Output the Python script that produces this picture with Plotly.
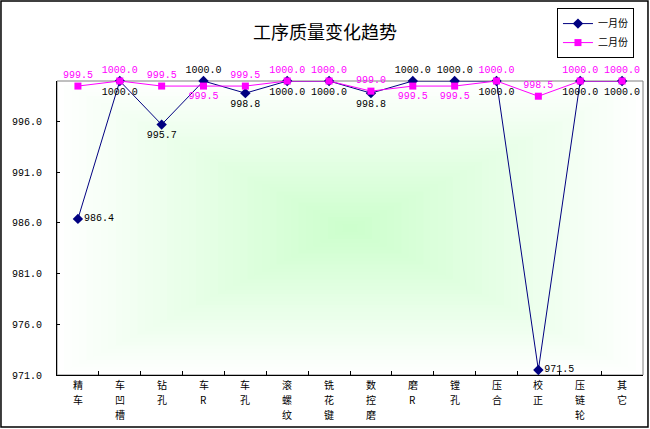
import plotly.graph_objects as go

# 工序名称
processes = ['精车', '车凹槽', '钻孔', '车R', '车孔', '滚螺纹', '铣花键',
             '数控磨', '磨R', '镗孔', '压合', '校正', '压链轮', '其它']
jan = [986.4, 1000.0, 995.7, 1000.0, 998.8, 1000.0, 1000.0,
       998.8, 1000.0, 1000.0, 1000.0, 971.5, 1000.0, 1000.0]
feb = [999.5, 1000.0, 999.5, 999.5, 999.5, 1000.0, 1000.0,
       999.0, 999.5, 999.5, 1000.0, 998.5, 1000.0, 1000.0]
y_ticks = [971.0, 976.0, 981.0, 986.0, 991.0, 996.0]

# 数据标签的位置
jan_pos = ['middle right', 'bottom center', 'bottom center', 'top center',
           'bottom center', 'bottom center', 'bottom center', 'bottom center',
           'top center', 'top center', 'bottom center', 'middle right',
           'bottom center', 'bottom center']
feb_pos = ['top center', 'top center', 'top center', 'bottom center',
           'top center', 'top center', 'top center', 'top center',
           'bottom center', 'bottom center', 'top center', 'top center',
           'top center', 'top center']

mono = 'Liberation Mono'
cjk = 'Noto Sans CJK SC'

fig = go.Figure()
fig.add_trace(go.Scatter(
    x=processes, y=jan, name='一月份', mode='lines+markers+text',
    line=dict(color='#000080', width=1),
    marker=dict(symbol='diamond', size=8, color='#000080'),
    text=[f'{v:.1f}' for v in jan], textposition=jan_pos,
    textfont=dict(family=mono, size=10, color='black'),
    cliponaxis=False))
fig.add_trace(go.Scatter(
    x=processes, y=feb, name='二月份', mode='lines+markers+text',
    line=dict(color='#FF00FF', width=1),
    marker=dict(symbol='square', size=7, color='#FF00FF'),
    text=[f'{v:.1f}' for v in feb], textposition=feb_pos,
    textfont=dict(family=mono, size=10, color='#FF00FF'),
    cliponaxis=False))

# 从中心向外的渐变背景（白 -> 浅绿）
shapes = []
n = 40
for i in range(n):
    s = 1 - i / n
    t = 1 - s
    c = int(255 - 51 * t)
    shapes.append(dict(type='rect', xref='paper', yref='paper',
                       x0=0.5 - s / 2, x1=0.5 + s / 2, y0=0.5 - s / 2, y1=0.5 + s / 2,
                       fillcolor=f'rgb({c},255,{c})', line=dict(width=0), layer='below'))
# 绘图区边框
shapes.append(dict(type='rect', xref='paper', yref='paper', x0=0, x1=1, y0=0, y1=1,
                   line=dict(color='#808080', width=1), layer='below'))
# 图表外框
shapes.append(dict(type='rect', xref='paper', yref='paper',
                   x0=-0.0956, x1=1.0085, y0=-0.177, y1=1.272,
                   line=dict(color='black', width=1.5)))

# 竖排的分类文字，一个字一行
annotations = []
for p in processes:
    for j, ch in enumerate(p):
        annotations.append(dict(x=p, y=0, xref='x', yref='paper', text=ch,
                                showarrow=False, yanchor='middle', yshift=-(9 + 15 * j),
                                font=dict(family=cjk, size=10, color='black')))

fig.update_layout(
    width=650, height=429,
    margin=dict(l=57, r=7, t=81, b=54, autoexpand=False),
    paper_bgcolor='white', plot_bgcolor='white',
    title=dict(text='工序质量变化趋势', x=0.5, xanchor='center', y=0.923, yanchor='middle',
               font=dict(family=cjk, size=18, color='black')),
    legend=dict(x=0.9846, y=1.248, xanchor='right', yanchor='top',
                bgcolor='white', bordercolor='black', borderwidth=1,
                font=dict(family=cjk, size=10, color='black'),
                itemwidth=30, tracegroupgap=0),
    shapes=shapes,
    annotations=annotations,
    showlegend=True,
)
fig.update_xaxes(
    range=[-0.5, 13.5], showticklabels=False,
    showline=True, linecolor='black', linewidth=1,
    ticks='inside', tickson='boundaries', ticklen=4, tickcolor='black',
    showgrid=False, zeroline=False)
fig.update_yaxes(
    range=[971, 1000], tickvals=y_ticks, tickformat='.1f',
    showline=True, linecolor='black', linewidth=1,
    ticks='inside', ticklen=3, tickcolor='black', ticklabelstandoff=12,
    showgrid=False, zeroline=False,
    tickfont=dict(family=mono, size=10, color='black'))

fig.write_html('out.html', config={'displayModeBar': False},
               post_script="document.body.style.margin='0';")
